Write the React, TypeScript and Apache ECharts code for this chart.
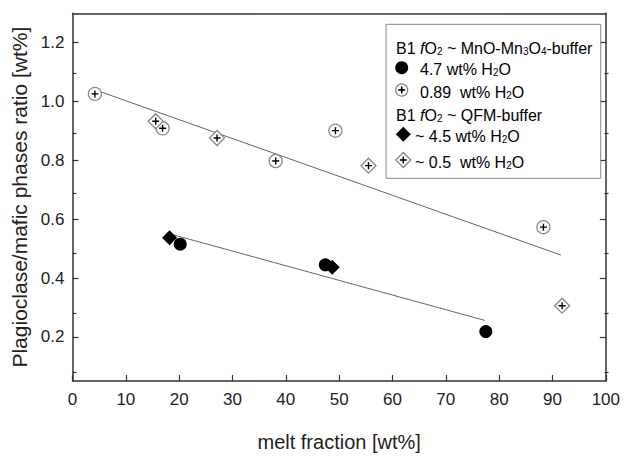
import React, { useEffect, useRef } from "react";
import * as echarts from "echarts";

// ---- data ----
const melt089 = [4.2, 16.9, 38.1, 49.3, 88.3];
const ratio089 = [1.026, 0.909, 0.798, 0.901, 0.573];

const melt05 = [15.6, 27.1, 55.5, 91.8];
const ratio05 = [0.933, 0.876, 0.782, 0.306];

const melt47 = [20.2, 47.4, 77.5];
const ratio47 = [0.515, 0.445, 0.218];

const melt45 = [18.2, 48.7];
const ratio45 = [0.537, 0.437];

const upperFitX = [4.2, 91.6];
const upperFitY = [1.04, 0.478];
const lowerFitX = [19.1, 77.3];
const lowerFitY = [0.546, 0.256];

const yMajor = [0.2, 0.4, 0.6, 0.8, 1.0, 1.2];
const yMinor = [0.1, 0.3, 0.5, 0.7, 0.9, 1.1];

const FONT = "'Liberation Sans', Arial, Helvetica, sans-serif";
const PLUS = "path://M4,0h2v4h4v2h-4v4h-2v-4h-4v-2h4z";

const zip = (xs: number[], ys: number[]) => xs.map((x, i) => [x, ys[i]]);

export default function App() {
  const ref = useRef<HTMLDivElement>(null);
  useEffect(() => {
    if (!ref.current) return;
    const chart = echarts.init(ref.current, null, { renderer: "svg" });
    const axisColor = "#333";
    const grid = { left: 72.5, right: 14.5, top: 13.3, bottom: 69.3 };
    const hiddenX = {
      type: "value", min: 0, max: 100, show: true,
      axisLine: { show: false }, axisTick: { show: false }, axisLabel: { show: false }, splitLine: { show: false },
    };
    const legendFont = { fontFamily: FONT, fontSize: 16, color: "#111" };
    const rich = {
      n: { fontFamily: FONT, fontSize: 16, color: "#111", lineHeight: 20, verticalAlign: "bottom" },
      i: { fontFamily: FONT, fontSize: 16, color: "#111", fontStyle: "italic", lineHeight: 20, verticalAlign: "bottom" },
      s: { fontFamily: FONT, fontSize: 10, color: "#111", lineHeight: 12, verticalAlign: "bottom" },
    };
    const plusLines = (cx: number, cy: number) => [
      { type: "line", shape: { x1: cx - 3.5, y1: cy, x2: cx + 3.5, y2: cy }, style: { stroke: "#000", lineWidth: 1.6 } },
      { type: "line", shape: { x1: cx, y1: cy - 3.5, x2: cx, y2: cy + 3.5 }, style: { stroke: "#000", lineWidth: 1.6 } },
    ];
    const diamond = (cx: number, cy: number, r: number) => [
      [cx, cy - r], [cx + r, cy], [cx, cy + r], [cx - r, cy],
    ];
    chart.setOption({
      animation: false,
      backgroundColor: "#fff",
      grid: [grid, grid],
      xAxis: [
        {
          type: "value", min: 0, max: 100, interval: 10, position: "bottom", gridIndex: 0,
          axisLine: { show: true, onZero: false, lineStyle: { color: axisColor, width: 1.5 } },
          axisTick: { show: true, inside: true, length: 6, lineStyle: { color: axisColor, width: 1.2 } },
          axisLabel: { fontFamily: FONT, fontSize: 17, color: "#222", margin: 10, showMaxLabel: true, showMinLabel: true },
          splitLine: { show: false },
          name: "melt fraction [wt%]", nameLocation: "middle", nameGap: 51,
          nameTextStyle: { fontFamily: FONT, fontSize: 20, color: "#222" },
        },
        {
          type: "value", min: 0, max: 100, position: "top", gridIndex: 0,
          axisLine: { show: true, onZero: false, lineStyle: { color: axisColor, width: 1.5 } },
          axisTick: { show: false }, axisLabel: { show: false }, splitLine: { show: false },
        },
        { ...hiddenX, gridIndex: 1 },
      ],
      yAxis: [
        {
          type: "value", min: 0.05, max: 1.3, position: "left", gridIndex: 0,
          axisLine: { show: true, onZero: false, lineStyle: { color: axisColor, width: 1.5 } },
          axisTick: { show: true, inside: true, length: 6, customValues: yMajor, lineStyle: { color: axisColor, width: 1.2 } },
          axisLabel: { customValues: yMajor, formatter: (v: number) => v.toFixed(1), fontFamily: FONT, fontSize: 17, color: "#222", margin: 8 },
          splitLine: { show: false },
          name: "Plagioclase/mafic phases ratio [wt%]", nameLocation: "middle", nameGap: 41,
          nameTextStyle: { fontFamily: FONT, fontSize: 21, color: "#222" },
        },
        {
          type: "value", min: 0.05, max: 1.3, position: "right", gridIndex: 0,
          axisLine: { show: true, onZero: false, lineStyle: { color: axisColor, width: 1.5 } },
          axisTick: { show: true, inside: true, length: 6, customValues: yMajor, lineStyle: { color: axisColor, width: 1.2 } },
          axisLabel: { show: false }, splitLine: { show: false },
        },
        {
          type: "value", min: 0.05, max: 1.3, position: "left", gridIndex: 1,
          axisLine: { show: false, onZero: false },
          axisTick: { show: true, inside: true, length: 4, customValues: yMinor, lineStyle: { color: axisColor, width: 1.2 } },
          axisLabel: { show: false }, splitLine: { show: false },
        },
        {
          type: "value", min: 0.05, max: 1.3, position: "right", gridIndex: 1,
          axisLine: { show: false, onZero: false },
          axisTick: { show: true, inside: true, length: 4, customValues: yMinor, lineStyle: { color: axisColor, width: 1.2 } },
          axisLabel: { show: false }, splitLine: { show: false },
        },
      ],
      series: [
        { type: "line", xAxisIndex: 0, yAxisIndex: 0, data: zip(upperFitX, upperFitY), symbol: "none", lineStyle: { color: "#666", width: 1 }, z: 1 },
        { type: "line", xAxisIndex: 0, yAxisIndex: 0, data: zip(lowerFitX, lowerFitY), symbol: "none", lineStyle: { color: "#666", width: 1 }, z: 1 },
        { type: "scatter", xAxisIndex: 0, yAxisIndex: 0, data: zip(melt45, ratio45), symbol: "diamond", symbolSize: 15, itemStyle: { color: "#000", opacity: 1 }, z: 3 },
        { type: "scatter", xAxisIndex: 0, yAxisIndex: 0, data: zip(melt47, ratio47), symbol: "circle", symbolSize: 13, itemStyle: { color: "#000", opacity: 1 }, z: 3 },
        { type: "scatter", xAxisIndex: 0, yAxisIndex: 0, data: zip(melt089, ratio089), symbol: "circle", symbolSize: 13, itemStyle: { color: "#fff", borderColor: "#888", borderWidth: 1.3, opacity: 1 }, z: 3 },
        { type: "scatter", xAxisIndex: 0, yAxisIndex: 0, data: zip(melt089, ratio089), symbol: PLUS, symbolSize: 7, itemStyle: { color: "#000", opacity: 1 }, z: 4 },
        { type: "scatter", xAxisIndex: 0, yAxisIndex: 0, data: zip(melt05, ratio05), symbol: "diamond", symbolSize: 15, itemStyle: { color: "#fff", borderColor: "#888", borderWidth: 1.3, opacity: 1 }, z: 3 },
        { type: "scatter", xAxisIndex: 0, yAxisIndex: 0, data: zip(melt05, ratio05), symbol: PLUS, symbolSize: 7, itemStyle: { color: "#000", opacity: 1 }, z: 4 },
      ],
      graphic: [
        { type: "rect", shape: { x: 386, y: 24.3, width: 214.7, height: 154 }, style: { fill: "#fff", stroke: "#888", lineWidth: 1 }, z: 10 },
        {
          type: "text", x: 396, y: 46.7, z: 11,
          style: { text: "{n|B1 }{i|f}{n|O}{s|2}{n| ~ MnO-Mn}{s|3}{n|O}{s|4}{n|-buffer}", rich, verticalAlign: "middle", ...legendFont },
        },
        { type: "circle", shape: { cx: 401.7, cy: 67.7, r: 6.5 }, style: { fill: "#000" }, z: 11 },
        {
          type: "text", x: 420, y: 67.7, z: 11,
          style: { text: "{n|4.7 wt% H}{s|2}{n|O}", rich, verticalAlign: "middle", ...legendFont },
        },
        { type: "circle", shape: { cx: 401.7, cy: 90, r: 6 }, style: { fill: "#fff", stroke: "#888", lineWidth: 1.3 }, z: 11 },
        ...plusLines(401.7, 90).map((e) => ({ ...e, z: 12 })),
        {
          type: "text", x: 420, y: 90, z: 11,
          style: { text: "{n|0.89  wt% H}{s|2}{n|O}", rich, verticalAlign: "middle", ...legendFont },
        },
        {
          type: "text", x: 396, y: 113.3, z: 11,
          style: { text: "{n|B1 }{i|f}{n|O}{s|2}{n| ~ QFM-buffer}", rich, verticalAlign: "middle", ...legendFont },
        },
        { type: "polygon", shape: { points: diamond(403.3, 134.3, 7.5) }, style: { fill: "#000" }, z: 11 },
        {
          type: "text", x: 415, y: 134.3, z: 11,
          style: { text: "{n|~ 4.5 wt% H}{s|2}{n|O}", rich, verticalAlign: "middle", ...legendFont },
        },
        { type: "polygon", shape: { points: diamond(403.3, 160, 7.5) }, style: { fill: "#fff", stroke: "#888", lineWidth: 1.3 }, z: 11 },
        ...plusLines(403.3, 160).map((e) => ({ ...e, z: 12 })),
        {
          type: "text", x: 415, y: 160, z: 11,
          style: { text: "{n|~ 0.5  wt% H}{s|2}{n|O}", rich, verticalAlign: "middle", ...legendFont },
        },
      ],
    });
    return () => chart.dispose();
  }, []);
  return <div ref={ref} style={{ position: "fixed", left: 0, top: 0, width: 623, height: 457 }} />;
}
